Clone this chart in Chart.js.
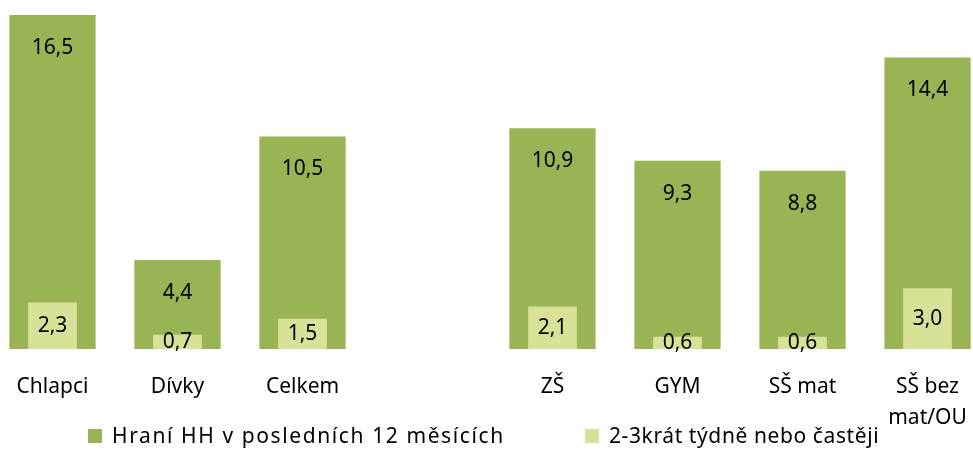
<!DOCTYPE html>
<html>
<head>
<meta charset="utf-8">
<script src="https://cdn.jsdelivr.net/npm/chart.js@4.4.1/dist/chart.umd.min.js"></script>
<style>
	html, body { margin:0; padding:0; background:#fff; overflow:hidden; width:973px; height:450px; }
	#wrap { position:absolute; left:-10px; top:0; width:1000px; height:473px; }
	.legend-item { position:absolute; top:423px; height:24px; line-height:24px; font-family:"Noto Sans", sans-serif; font-size:21px; color:#000; white-space:nowrap; }
	.legend-item span { display:inline-block; width:14px; height:14px; margin-right:10px; vertical-align:0px; }
</style>
</head>
<body>
<div id="wrap"><canvas id="hhChart"></canvas></div>
<div id="legend"></div>
<script>
// kategorie (prázdná položka = mezera mezi skupinami)
var categories = ['Chlapci', 'Dívky', 'Celkem', '', 'ZŠ', 'GYM', 'SŠ mat', ['SŠ bez', 'mat/OU']];
// Hraní HH v posledních 12 měsících
var hraniRok = [16.5, 4.4, 10.5, null, 10.9, 9.3, 8.8, 14.4];
// 2-3krát týdně nebo častěji
var hraniTyden = [2.3, 0.7, 1.5, null, 2.1, 0.6, 0.6, 3.0];

var FONT = '"Noto Sans", sans-serif';

//popisky hodnot do sloupců
var valueLabels = {
	id: 'valueLabels',
	afterDatasetsDraw: function(chart){
		var ctx = chart.ctx;
		ctx.save();
		ctx.font = '21px ' + FONT;
		ctx.fillStyle = '#000';
		ctx.textAlign = 'center';
		ctx.textBaseline = 'middle';
		chart.data.datasets.forEach(function(ds, i){
			var meta = chart.getDatasetMeta(i);
			meta.data.forEach(function(bar, j){
				var v = ds.data[j];
				if (v == null) return;
				var txt = v.toFixed(1).replace('.', ',');
				var y = ds.inner ? (bar.y + bar.base) / 2 : bar.y + 33;
				ctx.fillText(txt, bar.x, y);
			});
		});
		ctx.restore();
	}
};

var hhChart = new Chart(document.getElementById('hhChart'), {
	type: 'bar',
	data: {
		labels: categories,
		datasets: [
			{
				label: 'Hraní HH v posledních 12 měsících',
				data: hraniRok,
				backgroundColor: '#98b454',
				borderWidth: 0,
				barPercentage: 0.69,
				categoryPercentage: 1,
				grouped: false,
				order: 1
			},
			{
				label: '2-3krát týdně nebo častěji',
				data: hraniTyden,
				inner: true,
				backgroundColor: '#d8e197',
				borderWidth: 0,
				barPercentage: 0.39,
				categoryPercentage: 1,
				grouped: false,
				order: 0
			}
		]
	},
	options: {
		responsive: true,
		maintainAspectRatio: false,
		animation: false,
		layout: { padding: { top: 15, left: 0, right: 0, bottom: 17 } },
		scales: {
			x: {
				grid: { display: false, drawTicks: false },
				border: { display: false },
				ticks: { color: '#000', font: { family: FONT, size: 21, lineHeight: 1.5 }, padding: 22, maxRotation: 0, autoSkip: false }
			},
			y: {
				display: false,
				min: 0,
				max: 16.5
			}
		},
		plugins: {
			legend: { display: false },
			tooltip: { enabled: false }
		}
	},
	plugins: [valueLabels]
});

//legenda pod grafem (html)
var legendLeft = [88, 585];
var legendSpacing = [1.6, 0.6];
var row = '';
hhChart.data.datasets.forEach(function(ds, i){
	row += `<div class="legend-item" style="left:${legendLeft[i]}px;letter-spacing:${legendSpacing[i]}px"><span style="background:${ds.backgroundColor}"></span>${ds.label}</div>`;
});
document.getElementById('legend').innerHTML = row;
</script>
</body>
</html>
